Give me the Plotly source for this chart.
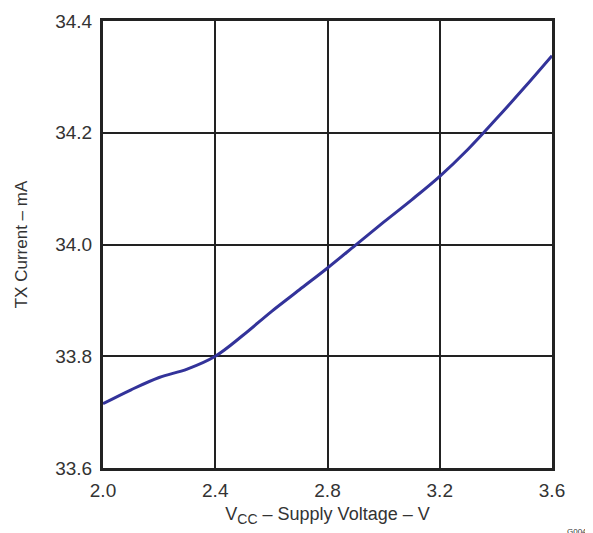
import plotly.graph_objects as go

vcc = [2.0, 2.1, 2.2, 2.3, 2.4, 2.5, 2.6, 2.7, 2.8, 2.9, 3.0, 3.1, 3.2, 3.3, 3.4, 3.5, 3.6]
tx_current = [33.715, 33.740, 33.762, 33.777, 33.800, 33.838, 33.880, 33.919, 33.958,
              33.999, 34.040, 34.080, 34.122, 34.170, 34.224, 34.280, 34.338]

x_ticks = [2.0, 2.4, 2.8, 3.2, 3.6]
x_tick_labels = ["2.0", "2.4", "2.8", "3.2", "3.6"]
y_ticks = [33.6, 33.8, 34.0, 34.2, 34.4]
y_tick_labels = ["33.6", "33.8", "34.0", "34.2", "34.4"]

text_color = "#333333"
grid_color = "#222222"

fig = go.Figure()
fig.add_trace(go.Scatter(
    x=vcc, y=tx_current, mode="lines",
    line=dict(color="#33339a", width=3, shape="spline", smoothing=1.0),
    showlegend=False, hoverinfo="skip",
))

# page body has an 8px default margin: size the figure to fit the 593x533 window
fig.update_layout(
    width=585, height=525,
    margin=dict(l=95, r=41, t=13, b=65, autoexpand=False),
    paper_bgcolor="white", plot_bgcolor="white",
    font=dict(family="Liberation Sans, Arial, sans-serif", color=text_color, size=18),
    xaxis=dict(
        range=[2.0, 3.6], tickvals=x_ticks, ticktext=x_tick_labels,
        showgrid=True, gridcolor=grid_color, gridwidth=2,
        showline=True, linecolor=grid_color, linewidth=3, mirror=True,
        ticks="", ticklabelstandoff=3, zeroline=False, automargin=False,
        tickfont=dict(size=19, color=text_color),
        title=dict(text="V<sub><span style='font-size:14px'>CC</span></sub> – Supply Voltage – V",
                   standoff=8, font=dict(size=18, color=text_color)),
    ),
    yaxis=dict(
        range=[33.6, 34.4], tickvals=y_ticks, ticktext=y_tick_labels,
        showgrid=True, gridcolor=grid_color, gridwidth=2,
        showline=True, linecolor=grid_color, linewidth=3, mirror=True,
        ticks="", ticklabelstandoff=4, zeroline=False, automargin=False,
        tickfont=dict(size=19, color=text_color),
        title=dict(text="TX Current – mA", standoff=24,
                   font=dict(size=17, color=text_color)),
    ),
    annotations=[dict(
        text="G004", xref="paper", yref="paper", x=1.055, y=-0.128,
        xanchor="center", yanchor="top", showarrow=False,
        font=dict(size=8, color=text_color),
    )],
)

fig.write_html("out.html")
